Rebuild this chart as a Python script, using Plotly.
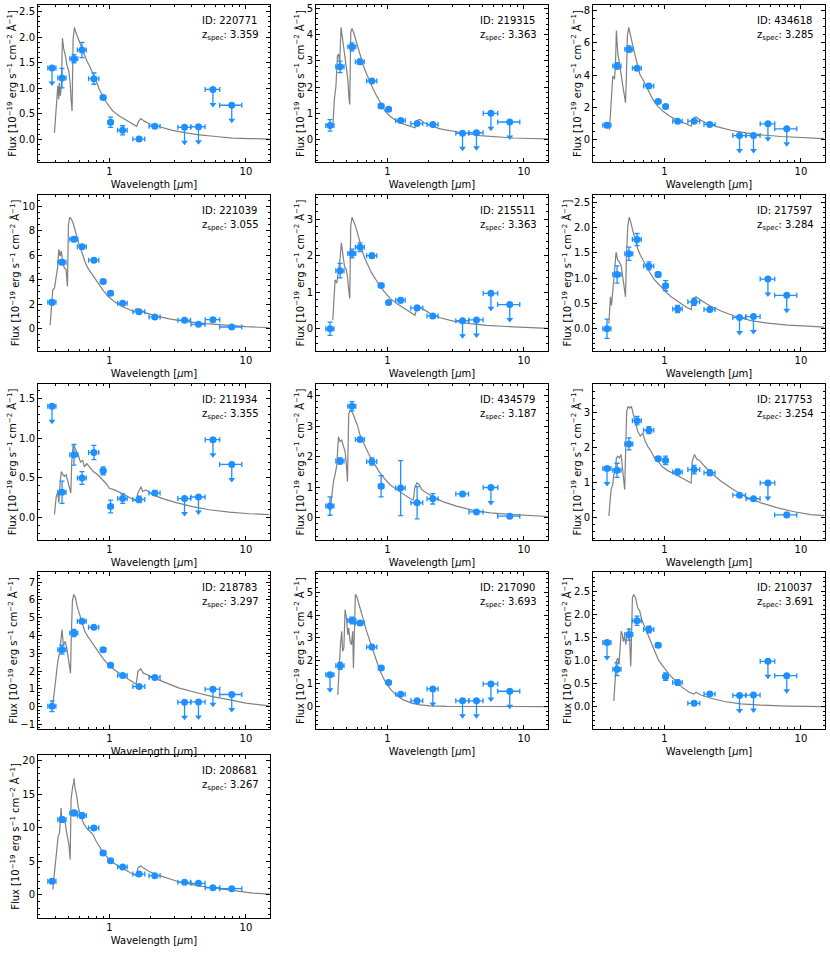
import math
import plotly.graph_objects as go

# ---------------- data ----------------
wave = [0.38, 0.45, 0.55, 0.63, 0.77, 0.90, 1.02, 1.25, 1.65, 2.15, 3.55, 4.49, 5.73, 7.87]
wave_err = [0.026, 0.031, 0.037, 0.047, 0.066, 0.04, 0.04, 0.10, 0.165, 0.20, 0.38, 0.53, 0.70, 1.45]

ids = ["220771", "219315", "434618", "221039", "215511", "217597", "211934",
       "434579", "217753", "218783", "217090", "210037", "208681"]
zspec = ["3.359", "3.363", "3.285", "3.055", "3.363", "3.284", "3.355",
         "3.187", "3.254", "3.297", "3.693", "3.691", "3.267"]

flux_220771 = [1.40, 1.20, 1.58, 1.75, 1.19, 0.82, 0.34, 0.18, 0.01, 0.26, 0.24, 0.25, 0.98, 0.67]
err_220771 = [0, 0.19, 0.08, 0.15, 0.11, 0.03, 0.10, 0.09, 0.03, 0.03, 0, 0, 0, 0]
ul_220771 = [1, 0, 0, 0, 0, 0, 0, 0, 0, 0, 1, 1, 1, 1]

flux_219315 = [0.54, 2.77, 3.53, 2.96, 2.23, 1.28, 1.15, 0.73, 0.61, 0.57, 0.24, 0.26, 1.00, 0.67]
err_219315 = [0.22, 0.22, 0.15, 0.10, 0.05, 0.05, 0.05, 0.05, 0.05, 0.04, 0, 0, 0, 0]
ul_219315 = [0, 0, 0, 0, 0, 0, 0, 0, 0, 0, 1, 1, 1, 1]

flux_434618 = [0.89, 4.57, 5.61, 4.43, 3.33, 2.37, 2.06, 1.14, 1.14, 0.94, 0.25, 0.25, 0.98, 0.67]
err_434618 = [0.15, 0.20, 0.20, 0.10, 0.10, 0.05, 0.05, 0.05, 0.10, 0.05, 0, 0, 0, 0]
ul_434618 = [0, 0, 0, 0, 0, 0, 0, 0, 0, 0, 1, 1, 1, 1]

flux_221039 = [2.15, 5.43, 7.30, 6.69, 5.59, 3.86, 2.89, 2.07, 1.38, 0.96, 0.69, 0.36, 0.74, 0.14]
err_221039 = [0.20, 0.20, 0.20, 0.15, 0.15, 0.10, 0.10, 0.10, 0.10, 0.05, 0.10, 0.05, 0.10, 0.05]
ul_221039 = [0] * 14

flux_215511 = [0.00, 1.59, 2.06, 2.23, 2.00, 1.18, 0.72, 0.78, 0.57, 0.35, 0.22, 0.24, 0.97, 0.66]
err_215511 = [0.18, 0.20, 0.12, 0.12, 0.07, 0.05, 0.05, 0.07, 0.07, 0.05, 0, 0, 0, 0]
ul_215511 = [0, 0, 0, 0, 0, 0, 0, 0, 0, 0, 1, 1, 1, 1]

flux_217597 = [0.00, 1.07, 1.48, 1.76, 1.24, 1.07, 0.85, 0.39, 0.53, 0.38, 0.22, 0.24, 0.98, 0.66]
err_217597 = [0.19, 0.17, 0.13, 0.12, 0.08, 0.05, 0.10, 0.07, 0.07, 0.04, 0, 0, 0, 0]
ul_217597 = [0, 0, 0, 0, 0, 0, 0, 0, 0, 0, 1, 1, 1, 1]

flux_211934 = [1.40, 0.32, 0.79, 0.50, 0.82, 0.59, 0.14, 0.24, 0.23, 0.31, 0.24, 0.26, 0.98, 0.67]
err_211934 = [0, 0.14, 0.13, 0.08, 0.09, 0.05, 0.08, 0.06, 0.04, 0.03, 0, 0, 0, 0]
ul_211934 = [1, 0, 0, 0, 0, 0, 0, 0, 0, 0, 1, 1, 1, 1]

flux_434579 = [0.38, 1.86, 3.65, 2.56, 1.84, 1.03, None, 0.97, 0.49, 0.62, 0.78, 0.19, 0.99, 0.05]
err_434579 = [0.30, 0.10, 0.15, 0.05, 0.12, 0.35, None, 0.90, 0.53, 0.17, 0.05, 0.05, 0, 0.03]
ul_434579 = [0, 0, 0, 0, 0, 0, 0, 0, 0, 0, 0, 0, 1, 0]

flux_217753 = [1.40, 1.35, 2.10, 2.76, 2.49, 1.68, 1.63, 1.30, 1.37, 1.28, 0.64, 0.54, 0.99, 0.08]
err_217753 = [0, 0.20, 0.17, 0.12, 0.10, 0.05, 0.12, 0.08, 0.12, 0.08, 0.05, 0.05, 0, 0.07]
ul_217753 = [1, 0, 0, 0, 0, 0, 0, 0, 0, 0, 0, 0, 1, 0]

flux_218783 = [0.02, 3.20, 4.14, 4.80, 4.46, 3.20, 2.32, 1.75, 1.13, 1.64, 0.24, 0.26, 0.98, 0.68]
err_218783 = [0.30, 0.25, 0.20, 0.12, 0.07, 0.07, 0.07, 0.07, 0.07, 0.07, 0, 0, 0, 0]
ul_218783 = [0, 0, 0, 0, 0, 0, 0, 0, 0, 0, 1, 1, 1, 1]

flux_217090 = [1.39, 1.78, 3.76, 3.65, 2.60, 1.68, 1.05, 0.54, 0.25, 0.77, 0.25, 0.25, 0.99, 0.67]
err_217090 = [0, 0.15, 0.15, 0.10, 0.07, 0.07, 0.05, 0.05, 0.05, 0, 0, 0, 0, 0]
ul_217090 = [1, 0, 0, 0, 0, 0, 0, 0, 0, 1, 1, 1, 1, 1]

flux_210037 = [1.39, 0.81, 1.56, 1.86, 1.67, 1.33, 0.65, 0.52, 0.07, 0.27, 0.24, 0.25, 0.98, 0.67]
err_210037 = [0, 0.14, 0.12, 0.10, 0.07, 0.04, 0.08, 0.06, 0.03, 0.03, 0, 0, 0, 0]
ul_210037 = [1, 0, 0, 0, 0, 0, 0, 0, 0, 0, 1, 1, 1, 1]

flux_208681 = [1.99, 11.19, 12.19, 11.79, 9.95, 6.22, 5.07, 4.13, 3.08, 2.84, 1.84, 1.69, 1.04, 0.90]
err_208681 = [0.3, 0.4, 0.4, 0.4, 0.3, 0.2, 0.2, 0.2, 0.2, 0.15, 0.1, 0.1, 0.15, 0.15]
ul_208681 = [0] * 14

# best-fit model SEDs: (wavelength [um], flux)
model_220771 = [(0.396, 0.13), (0.419, 1.05), (0.425, 0.79), (0.43, 1.11), (0.437, 0.85), (0.445, 1.05),
                (0.453, 1.98), (0.463, 1.77), (0.476, 1.64), (0.49, 1.44), (0.504, 1.34), (0.516, 1.11),
                (0.524, 0.79), (0.533, 0.56), (0.542, 1.96), (0.555, 2.19), (0.568, 2.09), (0.586, 2.0),
                (0.605, 1.9), (0.628, 1.77), (0.655, 1.67), (0.683, 1.54), (0.714, 1.44), (0.755, 1.31),
                (0.799, 1.15), (0.845, 0.98), (0.904, 0.82), (0.97, 0.69), (1.058, 0.56), (1.18, 0.46),
                (1.32, 0.38), (1.48, 0.31), (1.585, 0.26), (1.64, 0.36), (1.70, 0.41), (1.8, 0.36),
                (1.96, 0.31), (2.32, 0.25), (2.9, 0.18), (3.64, 0.13), (4.55, 0.09), (6.03, 0.06),
                (7.98, 0.03), (10.6, 0.02), (14.8, 0.01)]
model_219315 = [(0.398, 0.45), (0.409, 1.53), (0.42, 2.04), (0.431, 3.19), (0.44, 3.25), (0.447, 2.9),
                (0.458, 4.27), (0.471, 3.83), (0.485, 3.32), (0.499, 2.81), (0.513, 2.3), (0.524, 1.53),
                (0.53, 1.34), (0.539, 4.08), (0.551, 4.23), (0.57, 4.02), (0.59, 3.76), (0.614, 3.44),
                (0.642, 3.06), (0.667, 2.81), (0.706, 2.49), (0.747, 2.17), (0.79, 1.91), (0.835, 1.66),
                (0.884, 1.40), (0.961, 1.08), (1.046, 0.89), (1.17, 0.70), (1.35, 0.57), (1.51, 0.48),
                (1.594, 0.45), (1.66, 0.74), (1.73, 0.77), (1.83, 0.66), (2.05, 0.54), (2.43, 0.41),
                (3.04, 0.31), (3.8, 0.23), (4.76, 0.15), (6.3, 0.10), (8.37, 0.06), (11.1, 0.04), (14.9, 0.03)]
model_434618 = [(0.396, 0.62), (0.407, 2.49), (0.419, 3.95), (0.431, 3.74), (0.438, 4.6), (0.445, 6.76),
                (0.456, 5.3), (0.468, 4.78), (0.482, 3.85), (0.496, 3.33), (0.51, 2.70), (0.519, 2.29),
                (0.527, 3.95), (0.536, 6.45), (0.548, 6.96), (0.564, 6.55), (0.58, 6.03), (0.603, 5.41),
                (0.631, 4.68), (0.66, 4.05), (0.694, 3.74), (0.734, 3.33), (0.777, 2.91), (0.822, 2.49),
                (0.894, 2.08), (0.972, 1.77), (1.088, 1.46), (1.25, 1.19), (1.44, 0.98), (1.57, 0.83),
                (1.64, 1.35), (1.705, 1.41), (1.8, 1.25), (2.02, 1.04), (2.46, 0.79), (3.08, 0.58),
                (3.96, 0.42), (5.1, 0.29), (7.14, 0.19), (10.0, 0.12), (14.8, 0.06)]
model_221039 = [(0.368, 0.28), (0.379, 2.34), (0.385, 3.17), (0.396, 3.31), (0.407, 4.27), (0.419, 5.10),
                (0.426, 6.47), (0.436, 5.92), (0.445, 6.34), (0.456, 5.37), (0.468, 4.96), (0.482, 4.82),
                (0.493, 3.44), (0.501, 8.40), (0.512, 9.09), (0.527, 8.95), (0.545, 8.54), (0.564, 7.85),
                (0.583, 7.30), (0.603, 6.75), (0.631, 6.20), (0.66, 5.51), (0.694, 4.96), (0.734, 4.55),
                (0.777, 4.13), (0.822, 3.72), (0.894, 3.17), (0.972, 2.67), (1.088, 2.20), (1.25, 1.79),
                (1.44, 1.46), (1.52, 1.38), (1.57, 1.65), (1.66, 1.57), (1.85, 1.29), (2.19, 1.05),
                (2.75, 0.80), (3.64, 0.58), (5.1, 0.41), (7.14, 0.28), (10.0, 0.17), (14.8, 0.08)]
model_215511 = [(0.398, 0.23), (0.407, 0.88), (0.414, 1.34), (0.426, 1.25), (0.438, 1.52), (0.45, 1.9),
                (0.46, 2.35), (0.471, 2.03), (0.485, 1.71), (0.499, 1.62), (0.51, 1.43), (0.521, 1.06),
                (0.53, 0.83), (0.539, 2.82), (0.551, 3.05), (0.564, 2.95), (0.583, 2.82), (0.603, 2.63),
                (0.631, 2.35), (0.66, 2.08), (0.69, 1.89), (0.726, 1.71), (0.768, 1.52), (0.812, 1.38),
                (0.869, 1.20), (0.945, 1.02), (1.046, 0.83), (1.17, 0.69), (1.35, 0.55), (1.51, 0.43),
                (1.594, 0.37), (1.64, 0.55), (1.715, 0.60), (1.83, 0.53), (2.05, 0.42), (2.43, 0.30),
                (3.04, 0.21), (4.02, 0.14), (5.33, 0.09), (7.46, 0.06), (10.4, 0.03), (14.9, 0.01)]
model_217597 = [(0.392, 0.10), (0.403, 0.63), (0.41, 0.46), (0.419, 0.76), (0.431, 1.22), (0.443, 1.51),
                (0.456, 1.35), (0.468, 1.32), (0.482, 1.25), (0.496, 1.02), (0.51, 0.76), (0.519, 0.63),
                (0.527, 1.41), (0.539, 2.01), (0.552, 2.20), (0.567, 2.11), (0.586, 1.94), (0.61, 1.74),
                (0.638, 1.58), (0.667, 1.45), (0.698, 1.35), (0.738, 1.22), (0.79, 1.09), (0.845, 0.97),
                (0.919, 0.86), (1.0, 0.76), (1.12, 0.63), (1.29, 0.51), (1.44, 0.43), (1.57, 0.38),
                (1.61, 0.59), (1.705, 0.63), (1.85, 0.56), (2.13, 0.46), (2.6, 0.35), (3.25, 0.25),
                (4.3, 0.16), (5.7, 0.11), (7.98, 0.07), (11.2, 0.05), (14.8, 0.03)]
model_211934 = [(0.396, 0.04), (0.407, 0.25), (0.419, 0.33), (0.426, 0.19), (0.436, 0.45), (0.445, 0.58),
                (0.456, 0.54), (0.468, 0.52), (0.482, 0.54), (0.496, 0.45), (0.51, 0.37), (0.522, 0.31),
                (0.53, 0.70), (0.542, 0.91), (0.555, 0.89), (0.57, 0.85), (0.59, 0.79), (0.614, 0.70),
                (0.638, 0.72), (0.656, 0.64), (0.683, 0.68), (0.714, 0.64), (0.763, 0.58), (0.822, 0.54),
                (0.894, 0.48), (0.945, 0.43), (1.0, 0.37), (1.088, 0.35), (1.22, 0.31), (1.36, 0.27),
                (1.48, 0.24), (1.57, 0.21), (1.62, 0.31), (1.705, 0.39), (1.75, 0.33), (1.85, 0.35),
                (2.07, 0.29), (2.46, 0.24), (3.08, 0.19), (4.07, 0.14), (5.38, 0.10), (7.54, 0.07),
                (10.6, 0.05), (14.8, 0.04)]
model_434579 = [(0.38, 0.22), (0.392, 0.86), (0.403, 1.19), (0.414, 1.41), (0.426, 1.73), (0.438, 2.65),
                (0.45, 2.49), (0.463, 2.54), (0.476, 2.38), (0.49, 2.16), (0.5, 1.78), (0.51, 1.19),
                (0.521, 3.41), (0.533, 3.51), (0.548, 3.48), (0.564, 3.37), (0.583, 3.19), (0.603, 3.03),
                (0.631, 2.70), (0.66, 2.49), (0.69, 2.32), (0.726, 2.11), (0.768, 1.89), (0.812, 1.73),
                (0.869, 1.51), (0.945, 1.30), (1.046, 1.08), (1.17, 0.92), (1.31, 0.76), (1.465, 0.63),
                (1.55, 0.59), (1.585, 0.97), (1.64, 1.14), (1.715, 1.08), (1.78, 0.92), (1.94, 0.81),
                (2.17, 0.67), (2.57, 0.52), (3.21, 0.38), (4.26, 0.24), (5.64, 0.16), (7.91, 0.11),
                (11.1, 0.06), (14.9, 0.04)]
model_217753 = [(0.392, 0.05), (0.4, 0.57), (0.407, 0.80), (0.419, 0.95), (0.426, 1.23), (0.438, 1.32),
                (0.445, 1.70), (0.456, 1.75), (0.468, 1.70), (0.482, 1.80), (0.493, 1.42), (0.504, 1.14),
                (0.512, 0.80), (0.522, 2.18), (0.53, 3.03), (0.542, 3.17), (0.557, 3.12), (0.573, 3.17),
                (0.59, 2.93), (0.61, 2.74), (0.638, 2.46), (0.667, 2.32), (0.694, 2.41), (0.722, 2.18),
                (0.755, 2.03), (0.799, 1.89), (0.845, 1.70), (0.904, 1.59), (0.972, 1.44), (1.058, 1.34),
                (1.18, 1.25), (1.32, 1.14), (1.48, 1.04), (1.57, 0.99), (1.6, 1.61), (1.66, 1.80),
                (1.73, 1.66), (1.81, 1.63), (1.96, 1.47), (2.19, 1.28), (2.6, 1.04), (3.25, 0.78),
                (4.07, 0.57), (5.1, 0.42), (6.75, 0.28), (8.93, 0.17), (11.8, 0.09), (14.8, 0.06)]
model_218783 = [(0.385, 0.09), (0.396, 1.04), (0.407, 1.98), (0.419, 2.54), (0.431, 3.01), (0.443, 3.86),
                (0.45, 4.33), (0.46, 3.48), (0.474, 3.67), (0.487, 3.30), (0.499, 2.73), (0.51, 2.35),
                (0.519, 1.88), (0.527, 4.24), (0.536, 5.93), (0.548, 6.31), (0.564, 6.12), (0.58, 5.65),
                (0.603, 5.18), (0.631, 4.71), (0.66, 4.24), (0.694, 3.95), (0.734, 3.67), (0.777, 3.39),
                (0.831, 3.07), (0.894, 2.73), (0.972, 2.39), (1.088, 2.07), (1.25, 1.75), (1.44, 1.45),
                (1.57, 1.26), (1.62, 1.98), (1.695, 2.13), (1.77, 1.88), (1.9, 1.79), (2.13, 1.60),
                (2.6, 1.32), (3.25, 1.04), (4.3, 0.79), (5.7, 0.56), (7.98, 0.35), (10.0, 0.19),
                (14.8, 0.04)]
model_217090 = [(0.433, 0.51), (0.443, 1.83), (0.453, 2.70), (0.463, 3.29), (0.47, 2.41), (0.48, 2.56),
                (0.49, 4.24), (0.501, 3.87), (0.513, 3.14), (0.521, 3.43), (0.533, 2.85), (0.545, 2.70),
                (0.557, 3.29), (0.564, 1.68), (0.573, 4.17), (0.583, 4.90), (0.596, 4.82), (0.617, 4.53),
                (0.638, 4.24), (0.667, 3.80), (0.698, 3.36), (0.73, 3.00), (0.768, 2.56), (0.812, 2.12),
                (0.86, 1.75), (0.909, 1.39), (0.978, 1.02), (1.064, 0.73), (1.17, 0.48), (1.31, 0.29),
                (1.51, 0.15), (1.73, 0.07), (2.05, 0.03), (2.72, 0.01), (4.76, 0.0), (8.0, 0.0), (14.9, 0.0)]
model_210037 = [(0.426, 0.12), (0.438, 0.69), (0.445, 0.98), (0.456, 1.05), (0.465, 0.91), (0.474, 1.27),
                (0.482, 1.63), (0.493, 1.56), (0.5, 1.41), (0.51, 1.52), (0.522, 1.34), (0.53, 1.56),
                (0.54, 1.49), (0.552, 1.70), (0.561, 1.20), (0.567, 0.87), (0.573, 1.34), (0.583, 2.36),
                (0.596, 2.43), (0.614, 2.36), (0.638, 2.14), (0.66, 2.07), (0.683, 1.88), (0.714, 1.74),
                (0.755, 1.56), (0.799, 1.38), (0.845, 1.20), (0.904, 1.01), (0.956, 0.91), (1.0, 0.83),
                (1.088, 0.69), (1.22, 0.54), (1.36, 0.41), (1.52, 0.31), (1.64, 0.27), (1.705, 0.31),
                (1.85, 0.25), (2.19, 0.18), (2.75, 0.11), (3.64, 0.06), (5.1, 0.03), (7.98, 0.01), (14.8, 0.0)]
model_208681 = [(0.385, 0.75), (0.396, 3.7), (0.407, 6.7), (0.414, 7.2), (0.421, 8.7), (0.431, 9.2),
                (0.443, 12.9), (0.45, 10.7), (0.46, 11.4), (0.474, 10.9), (0.482, 9.7), (0.496, 8.2),
                (0.507, 7.2), (0.516, 5.2), (0.524, 14.2), (0.539, 16.2), (0.548, 16.7), (0.551, 17.35),
                (0.56, 15.9), (0.577, 14.7), (0.59, 13.2), (0.61, 11.9), (0.631, 11.2), (0.656, 10.4),
                (0.683, 9.9), (0.714, 9.5), (0.755, 9.0), (0.799, 8.0), (0.845, 7.1), (0.904, 6.2),
                (0.972, 5.5), (1.058, 4.8), (1.18, 4.2), (1.32, 3.6), (1.48, 3.1), (1.57, 2.8), (1.62, 4.0),
                (1.695, 4.3), (1.77, 4.0), (1.9, 3.6), (2.13, 3.1), (2.6, 2.5), (3.25, 1.9), (4.3, 1.4),
                (5.7, 1.0), (7.98, 0.65), (11.2, 0.25), (14.8, 0.1)]

panels = [
    (flux_220771, err_220771, ul_220771, model_220771, 0.5),
    (flux_219315, err_219315, ul_219315, model_219315, 1),
    (flux_434618, err_434618, ul_434618, model_434618, 2),
    (flux_221039, err_221039, ul_221039, model_221039, 2),
    (flux_215511, err_215511, ul_215511, model_215511, 1),
    (flux_217597, err_217597, ul_217597, model_217597, 0.5),
    (flux_211934, err_211934, ul_211934, model_211934, 0.5),
    (flux_434579, err_434579, ul_434579, model_434579, 1),
    (flux_217753, err_217753, ul_217753, model_217753, 1),
    (flux_218783, err_218783, ul_218783, model_218783, 1),
    (flux_217090, err_217090, ul_217090, model_217090, 1),
    (flux_210037, err_210037, ul_210037, model_210037, 0.5),
    (flux_208681, err_208681, ul_208681, model_208681, 5),
]

# ---------------- layout geometry ----------------
W, H = 830, 954
BLUE = '#1E90FF'
FONT = 'DejaVu Sans'
col_px = [(38, 270), (316, 548), (593, 825)]
row_px = [(5, 162), (195, 351), (384, 540), (572, 729), (755, 918)]
minor_x = [0.3, 0.4, 0.5, 0.6, 0.7, 0.8, 0.9, 2, 3, 4, 5, 6, 7, 8, 9]
minor_for = {0.5: 0.1, 1: 0.2, 2: 0.5, 5: 1}

fig = go.Figure()
layout = dict(width=W, height=H, margin=dict(l=0, r=0, t=0, b=0),
              paper_bgcolor='white', plot_bgcolor='white', showlegend=False,
              font=dict(family=FONT, size=10, color='black'))
annotations = []

for k, (flux, err, ul, model, dtick) in enumerate(panels):
    r, c = divmod(k, 3)
    n = k + 1
    sfx = '' if n == 1 else str(n)
    xname, yname = 'x' + sfx, 'y' + sfx
    xkey, ykey = 'xaxis' + sfx, 'yaxis' + sfx

    mwl = [p[0] for p in model]
    mfl = [p[1] for p in model]
    peak = max(max(mfl), max(f for f in flux if f is not None))
    ymin, ymax = -0.2 * peak, 1.2 * peak
    y0, y1 = row_px[r]
    upp = (ymax - ymin) / (y1 - y0)       # data units per pixel
    arrow = 15 * upp

    fig.add_trace(go.Scatter(x=mwl, y=mfl, mode='lines', line=dict(color='#808080', width=1.2),
                             xaxis=xname, yaxis=yname, hoverinfo='skip'))

    det = [j for j in range(14) if flux[j] is not None and not ul[j]]
    lim = [j for j in range(14) if flux[j] is not None and ul[j]]

    if det:
        fig.add_trace(go.Scatter(
            x=[wave[j] for j in det], y=[flux[j] for j in det], mode='markers',
            marker=dict(color=BLUE, size=7),
            error_y=dict(type='data', array=[err[j] for j in det], color=BLUE, thickness=1.3, width=2.5),
            error_x=dict(type='data', array=[wave_err[j] for j in det], color=BLUE, thickness=1.3, width=2.5),
            xaxis=xname, yaxis=yname))
    if lim:
        fig.add_trace(go.Scatter(
            x=[wave[j] for j in lim], y=[flux[j] for j in lim], mode='markers',
            marker=dict(color=BLUE, size=7),
            error_y=dict(type='data', symmetric=False, array=[0] * len(lim),
                         arrayminus=[arrow] * len(lim), color=BLUE, thickness=1.3, width=0),
            error_x=dict(type='data', array=[wave_err[j] for j in lim], color=BLUE, thickness=1.3, width=2.5),
            xaxis=xname, yaxis=yname))
        fig.add_trace(go.Scatter(
            x=[wave[j] for j in lim], y=[flux[j] - arrow for j in lim], mode='markers',
            marker=dict(color=BLUE, size=6, symbol='triangle-down'),
            xaxis=xname, yaxis=yname))

    x0, x1 = col_px[c]
    common = dict(showline=True, linecolor='black', linewidth=1, mirror='allticks', ticks='inside',
                  ticklen=4, tickwidth=1, tickcolor='black', showgrid=False, zeroline=False,
                  tickfont=dict(family=FONT, size=10, color='black'), automargin=False,
                  ticklabeloverflow='allow')
    layout[xkey] = dict(common, type='log', range=[math.log10(0.3), math.log10(15)],
                        domain=[x0 / W, x1 / W], anchor=yname,
                        tickvals=[1, 10], ticktext=['1', '10'],
                        minor=dict(tickvals=minor_x, ticks='inside', ticklen=2, tickcolor='black'),
                        title=dict(text='Wavelength [<i>μ</i>m]', font=dict(family=FONT, size=10), standoff=4))
    layout[ykey] = dict(common, range=[ymin, ymax], domain=[1 - y1 / H, 1 - y0 / H],
                        anchor=xname, tick0=0, dtick=dtick, tickformat='.1f' if dtick == 0.5 else 'd',
                        minor=dict(dtick=minor_for[dtick], tick0=0, ticks='inside', ticklen=2, tickcolor='black'),
                        title=dict(text='Flux [10<sup>−19</sup> erg s<sup>−1</sup> cm<sup>−2</sup> Å<sup>−1</sup>]',
                                   font=dict(family=FONT, size=10), standoff=0))
    # text lines placed in pixels below the panel's top edge
    annotations.append(dict(text=f'ID: {ids[k]}', xref=f'{xname} domain', yref=f'{yname} domain',
                            x=0.70, y=1 - 15.7 / (y1 - y0), xanchor='left', yanchor='middle',
                            showarrow=False, font=dict(family=FONT, size=10)))
    annotations.append(dict(text=f'z<sub>spec</sub>: {zspec[k]}', xref=f'{xname} domain',
                            yref=f'{yname} domain', x=0.70, y=1 - 30.5 / (y1 - y0), xanchor='left',
                            yanchor='middle', showarrow=False, font=dict(family=FONT, size=10)))

layout['annotations'] = annotations
fig.update_layout(**layout)
# the figure is exactly the window size, so drop the browser's default 8 px page margin
fig.write_html('out.html', config={'displayModeBar': False},
               post_script="document.body.style.margin='0';")
